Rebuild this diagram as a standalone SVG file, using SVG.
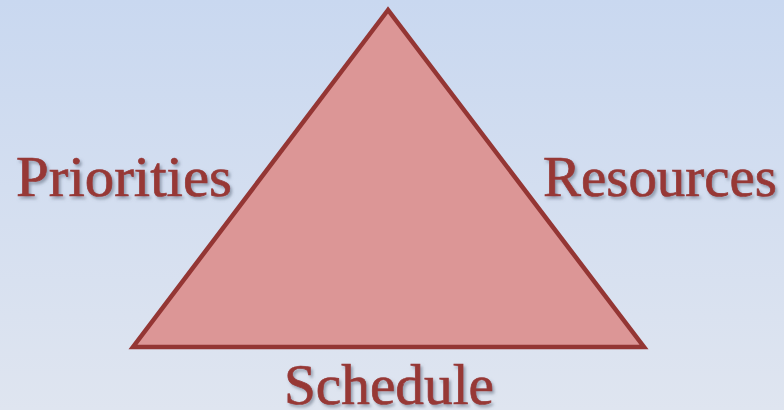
<svg xmlns="http://www.w3.org/2000/svg" width="784" height="410" viewBox="0 0 784 410">
<defs>
<linearGradient id="bg" x1="0" y1="0" x2="0" y2="1">
<stop offset="0" stop-color="#c9d8f0"/>
<stop offset="1" stop-color="#dfe5f0"/>
</linearGradient>
<filter id="sh" x="-10%" y="-20%" width="120%" height="150%">
<feDropShadow dx="2" dy="2.5" stdDeviation="1.5" flood-color="#5a6478" flood-opacity="0.55"/>
</filter>
</defs>
<style>
.lbl{font-family:"Liberation Serif","DejaVu Serif",serif;font-size:57px;fill:#973836;stroke:#973836;stroke-width:0.7;filter:url(#sh)}
.tri{fill:#dc9696;stroke:#943634;stroke-width:4.5;stroke-linejoin:miter}
</style>
<rect width="784" height="410" fill="url(#bg)"/>
<g id="triangle"><polygon class="tri" points="388,10 133,347 644,347"/></g>
<g id="priorities"><text class="lbl" x="16" y="196" textLength="216" lengthAdjust="spacingAndGlyphs">Priorities</text></g>
<g id="resources"><text class="lbl" x="543" y="196" textLength="234" lengthAdjust="spacingAndGlyphs">Resources</text></g>
<g id="schedule"><text class="lbl" x="284" y="404" textLength="210" lengthAdjust="spacingAndGlyphs">Schedule</text></g>
<g id="connectors"></g>
</svg>
